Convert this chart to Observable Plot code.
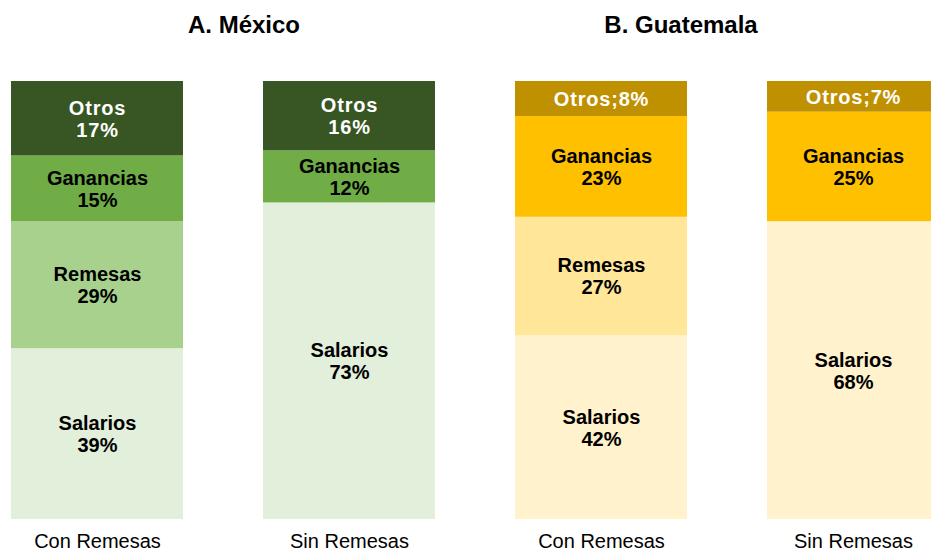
<!DOCTYPE html>
<html>
<head>
<meta charset="utf-8">
<script src="https://cdn.jsdelivr.net/npm/d3@7"></script>
<script src="https://cdn.jsdelivr.net/npm/@observablehq/plot@0.6"></script>
<style>
  html, body { margin: 0; padding: 0; background: #fff; }
  #wrap { position: relative; width: 931px; height: 553px; overflow: hidden; font-family: "Liberation Sans", Arial, sans-serif; }
  .title { position: absolute; top: 13px; transform: translateX(-50%); font-weight: bold; font-size: 24px; line-height: 24px; white-space: nowrap; color: #000; }
  #chart { position: absolute; left: 0; top: 0; }
</style>
</head>
<body>
<div id="wrap">
  <div class="title" style="left:244px">A. México</div>
  <div class="title" style="left:681px">B. Guatemala</div>
  <div id="chart"></div>
</div>
<script>
// ---- Data ----
const countries = ["México", "México", "Guatemala", "Guatemala"];
const scenarios = ["Con Remesas", "Sin Remesas", "Con Remesas", "Sin Remesas"];
const categories = ["Salarios", "Remesas", "Ganancias", "Otros"]; // bottom to top
const salarios  = [39, 73, 42, 68];
const remesas   = [29, 0, 27, 0];
const ganancias = [15, 12, 23, 25];
const otros     = [17, 16, 8, 7];
// label shown on one line ("Otros;8%") for these bars
const inlineOtros = [false, false, true, true];

// ---- Colours ----
const palette = {
  "México": {Salarios: "#E2EFDA", Remesas: "#A9D18E", Ganancias: "#70AD47", Otros: "#375623"},
  "Guatemala": {Salarios: "#FFF2CC", Remesas: "#FFE699", Ganancias: "#FFC000", Otros: "#BF9000"}
};

const series = {Salarios: salarios, Remesas: remesas, Ganancias: ganancias, Otros: otros};
const groups = countries.map((c, i) => `${c}|${scenarios[i]}`);
const rows = [];
groups.forEach((g, i) => {
  categories.forEach(cat => {
    const v = series[cat][i];
    if (v > 0) rows.push({group: g, country: countries[i], scenario: scenarios[i], cat, value: v, inline: inlineOtros[i], key: `${countries[i]}-${cat}`});
  });
});
const colorDomain = [], colorRange = [];
for (const c of ["México", "Guatemala"]) for (const cat of categories) { colorDomain.push(`${c}-${cat}`); colorRange.push(palette[c][cat]); }

const labelText = d => d.cat === "Otros" && d.inline ? `${d.cat};${d.value}%` : `${d.cat}\n${d.value}%`;
const stackOpts = (extra) => Plot.stackY({x: "group", y: "value", z: "cat", order: categories, offset: "normalize", ...extra});

const chart = Plot.plot({
  width: 931,
  height: 553,
  marginTop: 81,
  marginBottom: 34,
  marginLeft: 0,
  marginRight: 0,
  style: {fontFamily: "'Liberation Sans', Arial, sans-serif", background: "transparent"},
  x: {domain: groups, range: [11, 939], paddingInner: 0.3175, paddingOuter: 0, axis: null, label: null},
  y: {domain: [0, 1], axis: null},
  color: {type: "ordinal", domain: colorDomain, range: colorRange},
  marks: [
    Plot.barY(rows, stackOpts({fill: "key"})),
    Plot.text(rows, stackOpts({text: d => d.cat === "Otros" ? null : labelText(d), fill: "black", fontWeight: "bold", fontSize: 20, lineHeight: 1.1})),
    Plot.text(rows, stackOpts({text: d => d.cat === "Otros" ? labelText(d) : null, fill: "white", fontWeight: "bold", fontSize: 20, lineHeight: 1.1})),
    Plot.axisX({tickSize: 0, tickPadding: 14, fontSize: 20, label: null, tickFormat: g => g.split("|")[1], fill: "#000"})
  ]
});
document.getElementById("chart").appendChild(chart);
// slight letter spacing on "Otros" labels as in the original
d3.select(chart).selectAll("text").filter(function() { return /Otros/.test(this.textContent); }).style("letter-spacing", "0.8px");
</script>
</body>
</html>
